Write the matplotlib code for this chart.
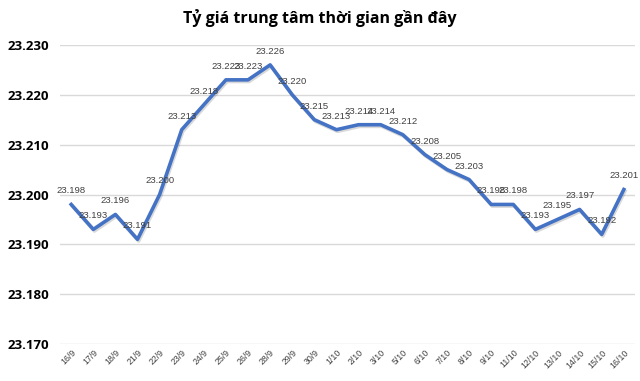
import matplotlib.pyplot as plt
import matplotlib.patheffects as pe

# dates and central rate (VND/USD)
dates = ['16/9', '17/9', '18/9', '21/9', '22/9', '23/9', '24/9', '25/9', '26/9',
         '28/9', '29/9', '30/9', '1/10', '2/10', '3/10', '5/10', '6/10', '7/10',
         '8/10', '9/10', '11/10', '12/10', '13/10', '14/10', '15/10', '16/10']
rate = [23198, 23193, 23196, 23191, 23200, 23213, 23218, 23223, 23223,
        23226, 23220, 23215, 23213, 23214, 23214, 23212, 23208, 23205,
        23203, 23198, 23198, 23193, 23195, 23197, 23192, 23201]
yticks = [23170, 23180, 23190, 23200, 23210, 23220, 23230]


def fmt(v):
    return '{:.3f}'.format(v / 1000)


plt.rcParams['font.family'] = ['Open Sans', 'DejaVu Sans']

fig = plt.figure(figsize=(6.4, 3.81), dpi=100)
ax = fig.add_axes([0.094, 0.097, 0.898, 0.785])

x = list(range(len(dates)))
ax.plot(x, rate, color='#4472C4', lw=2.6, solid_joinstyle='round',
        path_effects=[pe.SimpleLineShadow(offset=(0.8, -1.2), alpha=0.15), pe.Normal()])

for xi, v in zip(x, rate):
    ax.annotate(fmt(v), (xi, v), xytext=(0, 6.5), textcoords='offset points',
                ha='center', va='bottom', fontsize=6.8, color='#404040',
                family=['Liberation Sans', 'DejaVu Sans'])

ax.set_xlim(-0.5, len(dates) - 0.5)
ax.set_ylim(23170, 23230)
ax.set_yticks(yticks)
ax.set_yticklabels([fmt(t) for t in yticks], fontsize=9.5, fontweight='bold')
ax.set_xticks(x)
ax.set_xticklabels(dates, rotation=45, fontsize=6.3, color='#404040',
                   ha='right', rotation_mode='anchor',
                   family=['Liberation Sans', 'DejaVu Sans'])
ax.tick_params(length=0, pad=3)
ax.tick_params(axis='y', pad=8)
ax.grid(axis='y', color='#D9D9D9', lw=1)
ax.set_axisbelow(True)
for s in ax.spines.values():
    s.set_visible(False)

fig.suptitle('Tỷ giá trung tâm thời gian gần đây', fontsize=11.5,
             fontweight='bold', y=0.975)

fig.savefig('out.png', dpi=100)
